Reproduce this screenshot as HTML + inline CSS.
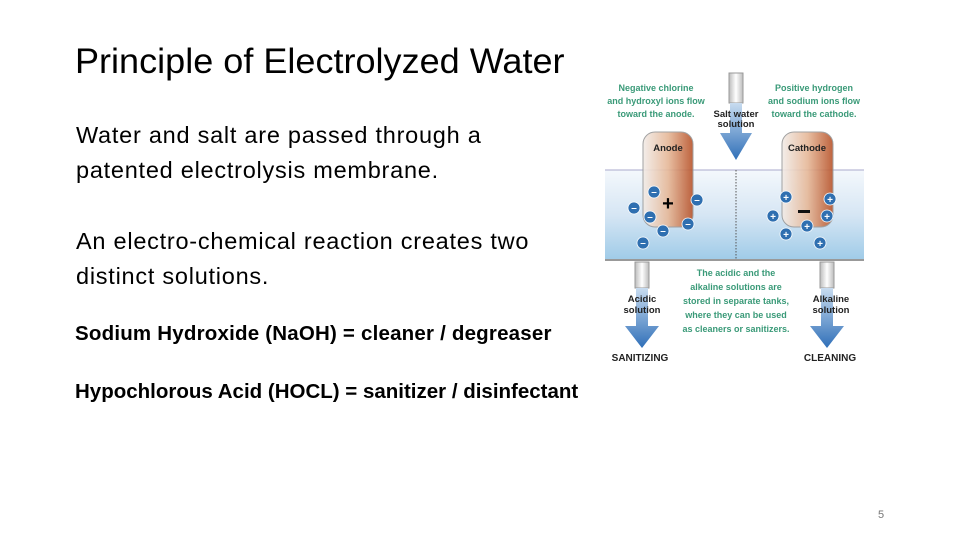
<!DOCTYPE html>
<html><head><meta charset="utf-8"><style>
body{margin:0;width:960px;height:540px;background:#fff;position:relative;overflow:hidden;font-family:"Liberation Sans",sans-serif;}
.t{position:absolute;white-space:nowrap;color:#000}
</style></head><body>
<div class="t" style="left:75px;top:42px;font-size:35px;font-family:'Liberation Sans Narrow','Liberation Sans',sans-serif;font-weight:normal;transform:scaleX(1.03);transform-origin:left">Principle of Electrolyzed Water</div>
<div class="t" style="left:76px;top:118px;font-size:23.5px;line-height:35px;letter-spacing:0.75px">Water and salt are passed through a<br>patented electrolysis membrane.</div>
<div class="t" style="left:76px;top:224px;font-size:23.5px;line-height:35px;letter-spacing:0.75px">An electro-chemical reaction creates two<br>distinct solutions.</div>
<div class="t" style="left:75px;top:322px;font-size:20.5px;font-weight:bold;letter-spacing:0.2px">Sodium Hydroxide (NaOH) = cleaner / degreaser</div>
<div class="t" style="left:75px;top:380px;font-size:20.5px;font-weight:bold">Hypochlorous Acid (HOCL) = sanitizer / disinfectant</div>
<div class="t" style="left:878px;top:509px;font-size:11px;color:#777">5</div>
<svg style="position:absolute;left:0;top:0" width="960" height="540" font-family="Liberation Sans, sans-serif">
<defs>
<linearGradient id="w" x1="0" y1="0" x2="0" y2="1"><stop offset="0" stop-color="#f4f8fc"/><stop offset="0.5" stop-color="#d6e6f4"/><stop offset="1" stop-color="#9fcbe8"/></linearGradient>
<linearGradient id="e" x1="0" y1="0" x2="1" y2="0"><stop offset="0" stop-color="#f2ece8"/><stop offset="0.5" stop-color="#e6b898"/><stop offset="1" stop-color="#b8532a"/></linearGradient>
<linearGradient id="a" x1="0" y1="0" x2="0" y2="1"><stop offset="0" stop-color="#c8dcf0"/><stop offset="1" stop-color="#2f6fb8"/></linearGradient>
<linearGradient id="p" x1="0" y1="0" x2="1" y2="0"><stop offset="0" stop-color="#bbb"/><stop offset="0.5" stop-color="#fff"/><stop offset="1" stop-color="#bbb"/></linearGradient>
</defs>
<rect x="605" y="170" width="259" height="90" fill="url(#w)"/>
<line x1="605" y1="170" x2="864" y2="170" stroke="#aac" stroke-width="1"/>
<line x1="605" y1="260" x2="864" y2="260" stroke="#999" stroke-width="2"/>
<line x1="736" y1="170" x2="736" y2="260" stroke="#555" stroke-dasharray="1.5,1.5"/>
<rect x="643" y="132" width="50" height="95" rx="12" fill="url(#e)" stroke="#999" opacity="0.9"/>
<rect x="782" y="132" width="51" height="95" rx="12" fill="url(#e)" stroke="#999" opacity="0.9"/>
<text x="668" y="151" font-size="9.5" text-anchor="middle" font-weight="bold" fill="#222">Anode</text>
<text x="807" y="151" font-size="9.5" text-anchor="middle" font-weight="bold" fill="#222">Cathode</text>
<text x="668" y="210" font-size="20" text-anchor="middle" font-weight="bold">+</text>
<rect x="798" y="210" width="12" height="3" fill="#111"/>
<g fill="#2f6fb0" stroke="#fff" stroke-width="0.8">
<circle cx="654" cy="192" r="6"/><circle cx="634" cy="208" r="6"/><circle cx="650" cy="217" r="6"/><circle cx="663" cy="231" r="6"/><circle cx="643" cy="243" r="6"/><circle cx="688" cy="224" r="6"/><circle cx="697" cy="200" r="6"/>
<circle cx="786" cy="197" r="6"/><circle cx="773" cy="216" r="6"/><circle cx="830" cy="199" r="6"/><circle cx="827" cy="216" r="6"/><circle cx="807" cy="226" r="6"/><circle cx="786" cy="234" r="6"/><circle cx="820" cy="243" r="6"/>
</g>
<g fill="#fff" font-size="10" font-weight="bold" text-anchor="middle">
<text x="654" y="195">–</text><text x="634" y="211">–</text><text x="650" y="220">–</text><text x="663" y="234">–</text><text x="643" y="246">–</text><text x="688" y="227">–</text><text x="697" y="203">–</text>
<text x="786" y="201">+</text><text x="773" y="220">+</text><text x="830" y="203">+</text><text x="827" y="220">+</text><text x="807" y="230">+</text><text x="786" y="238">+</text><text x="820" y="247">+</text>
</g>
<rect x="729" y="73" width="14" height="30" fill="url(#p)" stroke="#999"/>
<path d="M730 103h12v30h10l-16 27l-16-27h10z" fill="url(#a)"/>
<rect x="635" y="262" width="14" height="26" fill="url(#p)" stroke="#999"/>
<path d="M636 288h12v38h11l-17 22l-17-22h11z" fill="url(#a)"/>
<rect x="820" y="262" width="14" height="26" fill="url(#p)" stroke="#999"/>
<path d="M821 288h12v38h11l-17 22l-17-22h11z" fill="url(#a)"/>
<g font-size="9.5" fill="#222" text-anchor="middle" font-weight="bold">
<text x="736" y="117">Salt water</text><text x="736" y="127">solution</text>
<text x="642" y="302">Acidic</text><text x="642" y="313">solution</text>
<text x="831" y="302">Alkaline</text><text x="831" y="313">solution</text>
<text x="640" y="361" font-size="10">SANITIZING</text>
<text x="830" y="361" font-size="10">CLEANING</text>
</g>
<g font-size="9" fill="#3a9a78" text-anchor="middle" font-weight="bold">
<text x="656" y="91">Negative chlorine</text><text x="656" y="104">and hydroxyl ions flow</text><text x="656" y="117">toward the anode.</text>
<text x="814" y="91">Positive hydrogen</text><text x="814" y="104">and sodium ions flow</text><text x="814" y="117">toward the cathode.</text>
<text x="736" y="276">The acidic and the</text><text x="736" y="290">alkaline solutions are</text><text x="736" y="304">stored in separate tanks,</text><text x="736" y="318">where they can be used</text><text x="736" y="332">as cleaners or sanitizers.</text>
</g>
</svg>
</body></html>
